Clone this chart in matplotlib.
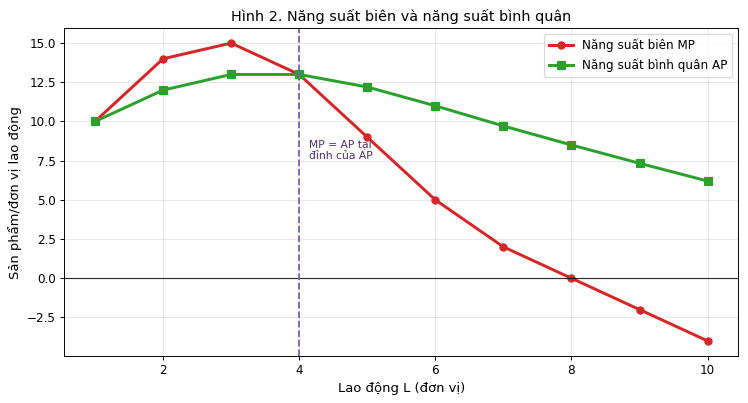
import numpy as np
import matplotlib.pyplot as plt

# lao dong L va nang suat
L = [1, 2, 3, 4, 5, 6, 7, 8, 9, 10]
MP = [10, 14, 15, 13, 9, 5, 2, 0, -2, -4]
AP = [10, 12, 13, 13, 12.2, 11, 9.714, 8.5, 7.333, 6.2]


def main():
    dpi = 86
    fig, ax = plt.subplots(figsize=(748 / dpi, 403 / dpi), dpi=dpi)
    fig.subplots_adjust(left=0.086, right=0.987, top=0.93, bottom=0.117)

    ax.plot(L, MP, color='#d62728', marker='o', linewidth=2.5, markersize=6,
            label='Năng suất biên MP')
    ax.plot(L, AP, color='#2ca02c', marker='s', linewidth=2.5, markersize=6,
            label='Năng suất bình quân AP')

    ax.axhline(0, color='black', linewidth=1, alpha=0.8)
    ax.axvline(4, color='#7b5ea7', linestyle='--', linewidth=1.5)
    ax.text(4.15, 7.6, 'MP = AP tại\nđỉnh của AP', color='#4b2c6f', fontsize=9)

    ax.grid(True, alpha=0.3)
    ax.set_xlabel('Lao động L (đơn vị)', fontsize=11)
    ax.set_ylabel('Sản phẩm/đơn vị lao động', fontsize=11)
    ax.set_title('Hình 2. Năng suất biên và năng suất bình quân', fontsize=12)
    ax.legend(loc='upper right', fontsize=10)

    fig.savefig('out.png', dpi=dpi)


if __name__ == '__main__':
    main()
